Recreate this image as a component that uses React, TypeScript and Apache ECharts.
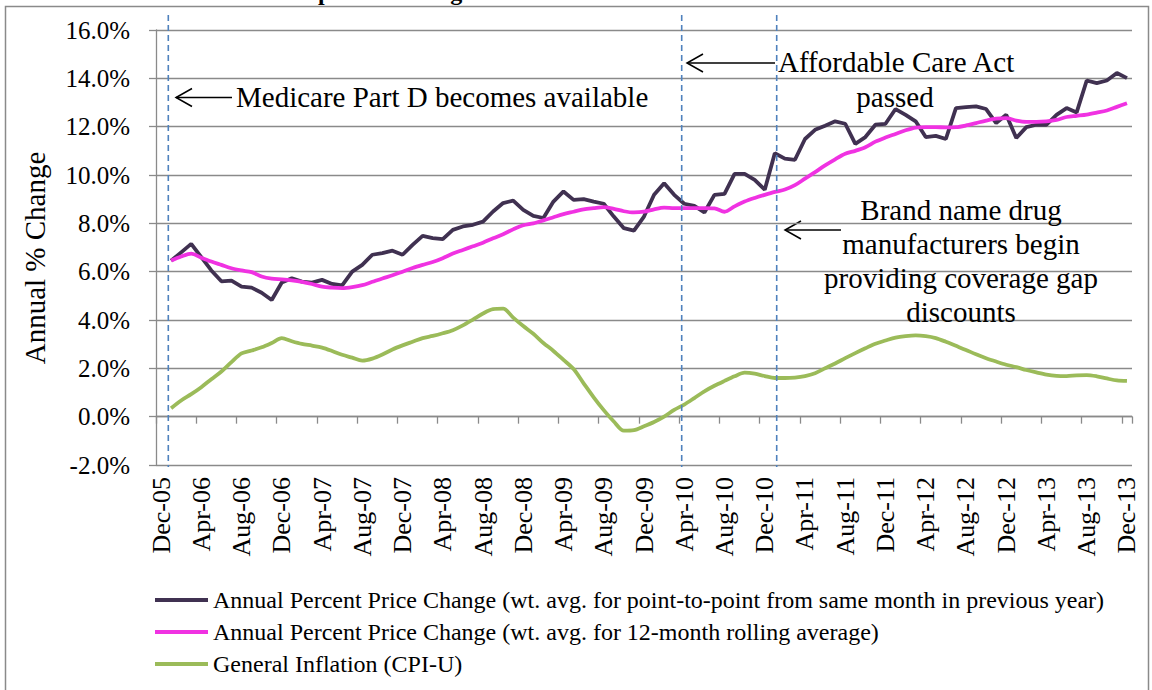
import React, { useEffect, useRef } from "react";
import * as echarts from "echarts";

// ---- data ----
const MON = ["Jan", "Feb", "Mar", "Apr", "May", "Jun", "Jul", "Aug", "Sep", "Oct", "Nov", "Dec"];
const YEARS = ["06", "07", "08", "09", "10", "11", "12", "13"];
const MONTHS: string[] = ["Dec-05"].concat(...YEARS.map((y) => MON.map((m) => `${m}-${y}`)));

// Jan-06 .. Dec-13 (Dec-05 has no value)
const P2P = [
  6.45, 6.8, 7.15, 6.6, 6.05, 5.6, 5.63, 5.38, 5.34, 5.13,
  4.83, 5.55, 5.73, 5.59, 5.55, 5.66, 5.49, 5.43, 6.0, 6.28,
  6.7, 6.77, 6.87, 6.7, 7.11, 7.48, 7.39, 7.35, 7.73, 7.87,
  7.94, 8.07, 8.49, 8.84, 8.94, 8.56, 8.31, 8.22, 8.9, 9.32,
  8.97, 9.0, 8.9, 8.81, 8.28, 7.8, 7.7, 8.28, 9.18, 9.66,
  9.18, 8.81, 8.72, 8.45, 9.18, 9.22, 10.05, 10.05, 9.8, 9.39,
  10.9, 10.68, 10.63, 11.49, 11.87, 12.04, 12.22, 12.12, 11.29, 11.57,
  12.08, 12.12, 12.73, 12.49, 12.22, 11.57, 11.62, 11.49, 12.77, 12.81,
  12.84, 12.73, 12.15, 12.49, 11.53, 11.98, 12.08, 12.08, 12.49, 12.77,
  12.59, 13.91, 13.8, 13.91, 14.22, 14.01,
];
const ROLLING = [
  6.46, 6.63, 6.75, 6.58, 6.42, 6.28, 6.14, 6.05, 5.98, 5.8,
  5.71, 5.68, 5.64, 5.58, 5.49, 5.38, 5.34, 5.32, 5.36, 5.44,
  5.58, 5.72, 5.85, 6.0, 6.15, 6.28, 6.4, 6.56, 6.75, 6.9,
  7.05, 7.2, 7.38, 7.55, 7.75, 7.92, 8.0, 8.12, 8.25, 8.38,
  8.48, 8.58, 8.63, 8.67, 8.6, 8.5, 8.45, 8.48, 8.58, 8.65,
  8.63, 8.63, 8.63, 8.63, 8.62, 8.48, 8.7, 8.9, 9.05, 9.18,
  9.3, 9.4, 9.58, 9.85, 10.12, 10.4, 10.65, 10.88, 11.0, 11.15,
  11.38, 11.55, 11.7, 11.85, 11.96, 11.98, 11.98, 11.97, 11.98, 12.05,
  12.15, 12.25, 12.33, 12.35, 12.25, 12.2, 12.2, 12.22, 12.28, 12.4,
  12.45, 12.5, 12.58, 12.67, 12.82, 12.97,
];
const CPI = [
  0.35, 0.67, 0.93, 1.22, 1.55, 1.87, 2.26, 2.62, 2.74, 2.87,
  3.05, 3.25, 3.12, 3.01, 2.94, 2.86, 2.72, 2.56, 2.44, 2.32,
  2.4, 2.57, 2.78, 2.95, 3.1, 3.25, 3.34, 3.45, 3.58, 3.78,
  4.02, 4.27, 4.45, 4.47, 4.1, 3.75, 3.43, 3.05, 2.72, 2.35,
  1.97, 1.38, 0.8, 0.27, -0.2, -0.58, -0.56, -0.4, -0.22, 0.0,
  0.28, 0.5, 0.77, 1.05, 1.28, 1.48, 1.67, 1.82, 1.78, 1.68,
  1.6, 1.6, 1.62, 1.68, 1.8, 2.0, 2.2, 2.42, 2.63, 2.83,
  3.02, 3.15, 3.27, 3.33, 3.36, 3.33, 3.25, 3.1, 2.93, 2.76,
  2.58, 2.42, 2.28, 2.15, 2.05, 1.93, 1.83, 1.74, 1.69, 1.68,
  1.71, 1.72, 1.67, 1.58, 1.5, 1.48,
];

const SERIES_NAMES = [
  "Annual Percent Price Change (wt. avg. for point-to-point from same month in previous year)",
  "Annual Percent Price Change (wt. avg. for 12-month rolling average)",
  "General Inflation (CPI-U)",
];
const SERIES_COLORS = ["#403151", "#F032E2", "#9BBB59"];
const Y_MIN = -2;
const Y_MAX = 16;
const Y_STEP = 2;

const ANNOTATIONS = {
  partD: ["Medicare Part D becomes available"],
  aca: ["Affordable Care Act", "passed"],
  gap: ["Brand name drug", "manufacturers begin", "providing coverage gap", "discounts"],
};

const SERIF = "Liberation Serif";

export default function App() {
  const ref = useRef<HTMLDivElement>(null);

  useEffect(() => {
    const chart = echarts.init(ref.current!, null, { renderer: "svg" });
    const gray = "#8a8a8a";
    const blue = "#4f81bd";

    const arrow = (xHead: number, xTail: number, y: number) => ({
      type: "group",
      z: 20,
      children: [
        { type: "line", shape: { x1: xHead, y1: y, x2: xTail, y2: y }, style: { stroke: "#000", lineWidth: 1.5 } },
        {
          type: "polyline",
          shape: { points: [[xHead + 16, y - 9], [xHead, y], [xHead + 16, y + 9]] },
          style: { stroke: "#000", lineWidth: 1.5, fill: null },
        },
      ],
    });
    const vdash = (x: number) => ({
      type: "line",
      z: 15,
      shape: { x1: x, y1: 15, x2: x, y2: 467 },
      style: { stroke: blue, lineWidth: 1.6, lineDash: [6, 4] },
    });
    const txt = (text: string, x: number, y: number, align = "center") => ({
      type: "text",
      z: 20,
      x,
      y,
      style: {
        text,
        fill: "#000",
        font: `29px ${SERIF}`,
        textAlign: align,
        textVerticalAlign: "middle",
      },
    });

    const option: any = {
      animation: false,
      backgroundColor: "#fff",
      textStyle: { fontFamily: SERIF },
      grid: { left: 156, top: 30, right: 20, bottom: 225, containLabel: false },
      legend: {
        orient: "vertical",
        left: 150,
        top: 583,
        itemWidth: 53,
        itemHeight: 4,
        itemGap: 8,
        icon: "rect",
        textStyle: { fontFamily: SERIF, fontSize: 24, color: "#000", lineHeight: 24 },
        data: SERIES_NAMES.map((name) => ({ name, icon: "rect" })),
      },
      xAxis: [
        {
          type: "category",
          data: MONTHS,
          boundaryGap: true,
          position: "bottom",
          axisLine: { onZero: true, lineStyle: { color: gray, width: 1.3 } },
          axisTick: { show: true, interval: 3, length: 7, lineStyle: { color: gray, width: 1.3 } },
          axisLabel: { show: false },
          splitLine: { show: false },
        },
        {
          type: "category",
          data: MONTHS,
          boundaryGap: true,
          position: "bottom",
          axisLine: { show: false, onZero: false },
          axisTick: { show: false },
          axisLabel: {
            interval: 3,
            rotate: 90,
            margin: 12,
            fontFamily: SERIF,
            fontSize: 26,
            color: "#000",
          },
          splitLine: { show: false },
        },
      ],
      yAxis: {
        type: "value",
        min: Y_MIN,
        max: Y_MAX,
        interval: Y_STEP,
        axisLine: { show: true, lineStyle: { color: gray, width: 1.3 } },
        axisTick: { show: true, length: 7, lineStyle: { color: gray, width: 1.3 } },
        axisLabel: {
          margin: 26,
          fontFamily: SERIF,
          fontSize: 25,
          color: "#000",
          formatter: (v: number) => v.toFixed(1) + "%",
        },
        splitLine: { show: true, lineStyle: { color: gray, width: 1.3 } },
      },
      series: [
        {
          name: SERIES_NAMES[0],
          type: "line",
          xAxisIndex: 0,
          data: [null, ...P2P],
          symbol: "none",
          color: SERIES_COLORS[0],
          lineStyle: { color: SERIES_COLORS[0], width: 3.8 },
          z: 3,
        },
        {
          name: SERIES_NAMES[1],
          type: "line",
          xAxisIndex: 0,
          data: [null, ...ROLLING],
          symbol: "none",
          smooth: 0.3,
          color: SERIES_COLORS[1],
          lineStyle: { color: SERIES_COLORS[1], width: 3.8 },
          z: 4,
        },
        {
          name: SERIES_NAMES[2],
          type: "line",
          xAxisIndex: 0,
          data: [null, ...CPI],
          symbol: "none",
          smooth: 0.3,
          color: SERIES_COLORS[2],
          lineStyle: { color: SERIES_COLORS[2], width: 3.8 },
          z: 5,
        },
      ],
      graphic: [
        {
          type: "rect",
          z: 1,
          shape: { x: 5.5, y: 6.5, width: 1143, height: 720 },
          style: { stroke: gray, lineWidth: 1.5, fill: null },
        },
        {
          type: "text",
          z: 20,
          x: 236,
          y: -8,
          style: {
            text: "Annual percent change",
            fill: "#000",
            font: `bold 24px ${SERIF}`,
            textAlign: "left",
            textVerticalAlign: "middle",
          },
        },
        {
          type: "text",
          z: 20,
          x: 35,
          y: 258,
          rotation: Math.PI / 2,
          style: {
            text: "Annual % Change",
            fill: "#000",
            font: `29px ${SERIF}`,
            textAlign: "center",
            textVerticalAlign: "middle",
          },
        },
        vdash(168.3),
        vdash(681.7),
        vdash(776.7),
        arrow(176, 232, 97.5),
        arrow(687, 775, 63),
        arrow(785, 841, 230),
        txt(ANNOTATIONS.partD[0], 236, 97, "left"),
        txt(ANNOTATIONS.aca[0], 778, 62, "left"),
        txt(ANNOTATIONS.aca[1], 895, 96.5),
        ...ANNOTATIONS.gap.map((t, i) => txt(t, 961, 210 + i * 34)),
      ],
    };

    chart.setOption(option);
    return () => chart.dispose();
  }, []);

  return (
    <div
      ref={ref}
      style={{ position: "absolute", left: 0, top: 0, width: 1152, height: 690, background: "#fff" }}
    />
  );
}
